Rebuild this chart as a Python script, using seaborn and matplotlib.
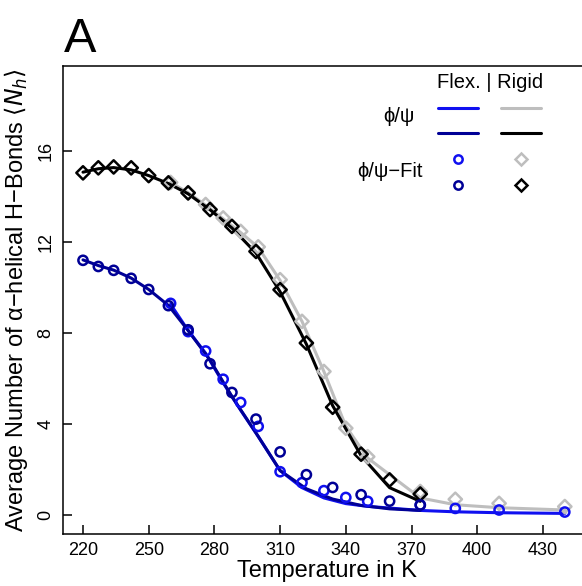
import numpy as np
import pandas as pd
import matplotlib
matplotlib.use("Agg")
import matplotlib.pyplot as plt
from matplotlib.lines import Line2D
import seaborn as sns

# ---------------- data ----------------
# temperature ladders (K)
T_dark = [220, 227, 234, 242, 250, 259, 268, 278, 288, 299, 310, 322, 334, 347, 360, 374]
T_light = [260, 268, 276, 284, 292, 300, 310, 320, 330, 340, 350, 374, 390, 410, 440]

# lines (phi/psi)
flex_light_line = [9.25, 8.1, 7.1, 5.8, 4.6, 3.45, 1.95, 1.2, 0.75, 0.5, 0.38, 0.2, 0.14, 0.1, 0.07]
flex_dark_line = [11.2, 10.95, 10.75, 10.4, 9.9, 9.2, 8.1, 6.8, 5.2, 3.6, 1.95, 1.15, 0.7, 0.42, 0.27, 0.2]
rigid_light_line = [14.6, 14.15, 13.6, 13.0, 12.4, 11.75, 10.3, 8.5, 6.3, 3.9, 2.5, 0.75, 0.45, 0.32, 0.22]
rigid_dark_line = [15.05, 15.2, 15.25, 15.15, 14.9, 14.55, 14.1, 13.4, 12.6, 11.5, 9.8, 7.5, 4.8, 2.6, 1.2, 0.6]

# points (phi/psi-Fit)
flex_light_fit = [9.29, 8.05, 7.2, 5.96, 4.94, 3.89, 1.9, 1.42, 1.07, 0.77, 0.6, 0.44, 0.29, 0.22, 0.13]
flex_dark_fit = [11.18, 10.91, 10.74, 10.39, 9.9, 9.19, 8.13, 6.64, 5.38, 4.21, 2.77, 1.77, 1.21, 0.89, 0.61, 0.44]
rigid_light_fit = [14.6, 14.15, 13.63, 13.04, 12.45, 11.77, 10.33, 8.5, 6.3, 3.81, 2.56, 1.03, 0.69, 0.51, 0.37]
rigid_dark_fit = [15.02, 15.24, 15.28, 15.24, 14.9, 14.58, 14.14, 13.41, 12.67, 11.57, 9.89, 7.55, 4.73, 2.67, 1.54, 0.92]

x_ticks = [220, 250, 280, 310, 340, 370, 400, 430]
y_ticks = [0, 4, 8, 12, 16]

C_BLUE = "#1010F0"
C_NAVY = "#000096"
C_GREY = "#BEBEBE"
C_BLACK = "#000000"

# ---------------- style ----------------
sns.set_style("white")
plt.rcParams["font.family"] = ["Liberation Sans", "DejaVu Sans"]
plt.rcParams["mathtext.fontset"] = "dejavusans"
plt.rcParams["text.color"] = "black"
plt.rcParams["axes.labelcolor"] = "black"

W, H = 582, 586
fig = plt.figure(figsize=(W / 100, H / 100), dpi=100)
L, R, T, B = 63, 590, 66, 534
ax = fig.add_axes([L / W, 1 - B / H, (R - L) / W, (B - T) / H])

LW = 2.2
MEW = 1.8

def line(x, y, c, z):
    df = pd.DataFrame({"T": x, "N": y})
    sns.lineplot(data=df, x="T", y="N", ax=ax, color=c, linewidth=LW,
                 sort=False, estimator=None, zorder=z)

def pts(x, y, c, m, s, z):
    df = pd.DataFrame({"T": x, "N": y})
    sns.scatterplot(data=df, x="T", y="N", ax=ax, marker=m, s=s,
                    facecolor="none", edgecolor=c, linewidth=MEW, zorder=z)

line(T_light, rigid_light_line, C_GREY, 2)
line(T_dark, rigid_dark_line, C_BLACK, 3)
line(T_light, flex_light_line, C_BLUE, 2)
line(T_dark, flex_dark_line, C_NAVY, 3)
pts(T_light, rigid_light_fit, C_GREY, "D", 46, 4)
pts(T_dark, rigid_dark_fit, C_BLACK, "D", 46, 5)
pts(T_light, flex_light_fit, C_BLUE, "o", 44, 4)
pts(T_dark, flex_dark_fit, C_NAVY, "o", 44, 5)

x0 = 220 + (L - 83) / 2.19
x1 = 220 + (R - 83) / 2.19
y0 = (515 - B) / 22.78
y1 = (515 - T) / 22.78
ax.set_xlim(x0, x1)
ax.set_ylim(y0, y1)
ax.set_xticks(x_ticks)
ax.set_yticks(y_ticks)
ax.set_xticklabels([str(v) for v in x_ticks])
ax.set_yticklabels([str(v) for v in y_ticks], rotation=90, va="center")
ax.tick_params(axis="both", direction="in", length=6.5, width=1.1,
               labelsize=13, colors="black", bottom=True, left=True,
               top=False, right=False)
ax.tick_params(axis="x", pad=6)
ax.tick_params(axis="y", pad=6)
for s in ax.spines.values():
    s.set_linewidth(1.1)
    s.set_color("black")

ax.set_xlabel("Temperature in K", fontsize=17, color="black")
ax.set_ylabel("Average Number of α−helical H−Bonds " + r"$\langle N_h\rangle$",
              fontsize=17, color="black")
ax.xaxis.set_label_coords(0.5, (B - 560) / (B - T))
ax.yaxis.set_label_coords((30 - L) / (R - L), 0.5)

# panel letter
fig.text(64 / W, 1 - 52 / H, "A", fontsize=35, ha="left", va="baseline", color="black")

# ---------------- legend ----------------
def fx(p):
    return p / W

def fy(p):
    return 1 - p / H

fig.text(fx(490), fy(82), "Flex. | Rigid", fontsize=14.5, ha="center", va="center", color="black")
fig.text(fx(415), fy(117), "ϕ/ψ", fontsize=14.5, ha="right", va="center", color="black")
fig.text(fx(423), fy(172), "ϕ/ψ−Fit", fontsize=14.5, ha="right", va="center", color="black")
for (xa, xb, yy, c) in [(438, 478, 108, C_BLUE), (501, 541, 108, C_GREY),
                         (438, 478, 133, C_NAVY), (501, 541, 133, C_BLACK)]:
    fig.add_artist(Line2D([fx(xa), fx(xb)], [fy(yy), fy(yy)], color=c,
                          linewidth=LW, transform=fig.transFigure))
for (xx, yy, c, m, ms) in [(458, 159, C_BLUE, "o", 6.0), (458, 185, C_NAVY, "o", 6.0),
                            (521, 159, C_GREY, "D", 5.8), (521, 185, C_BLACK, "D", 5.8)]:
    fig.add_artist(Line2D([fx(xx)], [fy(yy)], marker=m, markersize=ms,
                          markerfacecolor="none", markeredgecolor=c,
                          markeredgewidth=MEW, linestyle="none",
                          transform=fig.transFigure))

fig.savefig("out.png", dpi=100)
